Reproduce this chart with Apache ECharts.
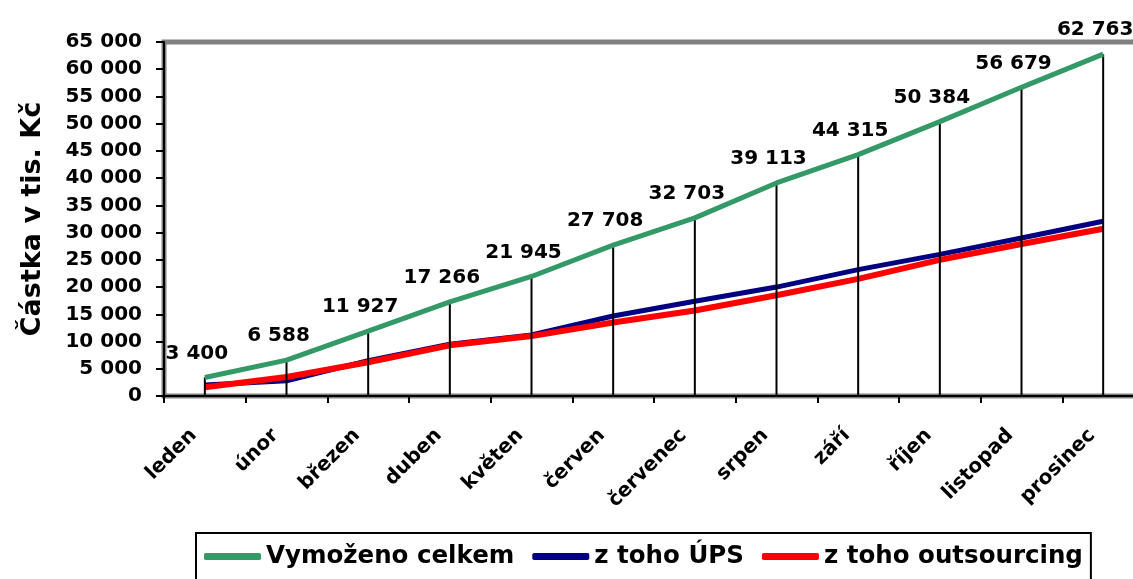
<!DOCTYPE html>
<html>
<head>
<meta charset="utf-8">
<script src="https://cdn.jsdelivr.net/npm/echarts@6/dist/echarts.min.js"></script>
<style>
  html, body { margin: 0; padding: 0; background: #fff; }
  #chart { width: 1133px; height: 579px; }
</style>
</head>
<body>
<div id="chart"></div>
<script>
(function() {
  'use strict';

  var months = ['leden', 'únor', 'březen', 'duben', 'květen', 'červen', 'červenec', 'srpen', 'září', 'říjen', 'listopad', 'prosinec'];
  var vymozenoCelkem = [3400, 6588, 11927, 17266, 21945, 27708, 32703, 39113, 44315, 50384, 56679, 62763];
  var zTohoUps = [2000, 2800, 6500, 9500, 11200, 14700, 17400, 20000, 23200, 26000, 29000, 32100];
  var zTohoOutsourcing = [1600, 3500, 6200, 9300, 11000, 13500, 15700, 18500, 21500, 25000, 27900, 30700];

  var colorGreen = '#339966';
  var colorNavy = '#000080';
  var colorRed = '#ff0000';
  var fontFamily = 'DejaVu Sans';

  function fmt(v) {
    return String(v).replace(/\B(?=(\d{3})+(?!\d))/g, ' ');
  }

  var chart = echarts.init(document.getElementById('chart'));
  chart.setOption({
    animation: false,
    textStyle: { fontFamily: fontFamily },
    // plot area runs a little past the right edge of the window, like the original
    grid: {
      left: 164, top: 42, width: 980, bottom: 183,
      outerBoundsMode: 'none',
      show: true, borderColor: '#808080', borderWidth: 5
    },
    legend: {
      data: ['Vymoženo celkem', 'z toho ÚPS', 'z toho outsourcing'],
      left: 196, top: 533,
      padding: [11, 8, 20, 8],
      borderColor: '#000', borderWidth: 2,
      icon: 'roundRect',
      itemWidth: 57, itemHeight: 7, itemGap: 18,
      textStyle: { fontFamily: fontFamily, fontSize: 24.5, fontWeight: 'bold', color: '#000' }
    },
    xAxis: {
      type: 'category',
      data: months,
      boundaryGap: true,
      axisLine: { lineStyle: { color: '#000', width: 2 } },
      axisTick: { show: true, interval: 0, length: 7, lineStyle: { color: '#000', width: 2 } },
      axisLabel: {
        interval: 0, rotate: 45, margin: 25,
        padding: [0, 16, 0, 0],
        fontFamily: fontFamily, fontSize: 20, fontWeight: 'bold', color: '#000'
      },
      splitLine: { show: false }
    },
    yAxis: {
      type: 'value',
      min: 0, max: 65000, interval: 5000,
      name: 'Částka v tis. Kč',
      nameLocation: 'middle',
      nameRotate: 90,
      nameGap: 118,
      nameTextStyle: { fontFamily: fontFamily, fontSize: 27, fontWeight: 'bold', color: '#000' },
      axisLine: { show: true, lineStyle: { color: '#000', width: 2 } },
      axisTick: { show: true, length: 8, lineStyle: { color: '#000', width: 2 } },
      axisLabel: {
        margin: 22,
        fontFamily: fontFamily, fontSize: 20, fontWeight: 'bold', color: '#000',
        formatter: fmt
      },
      splitLine: { show: false }
    },
    series: [
      {
        name: 'z toho ÚPS',
        type: 'line',
        data: zTohoUps,
        symbol: 'none',
        z: 2,
        lineStyle: { width: 5, color: colorNavy },
        itemStyle: { color: colorNavy }
      },
      {
        name: 'z toho outsourcing',
        type: 'line',
        data: zTohoOutsourcing,
        symbol: 'none',
        z: 2,
        lineStyle: { width: 6, color: colorRed },
        itemStyle: { color: colorRed }
      },
      {
        // black drop lines from the total line down to the axis
        name: 'drop',
        type: 'bar',
        data: vymozenoCelkem,
        barWidth: 2,
        z: 3,
        itemStyle: { color: '#000' },
        label: {
          show: true, position: 'top', distance: 14, offset: [-8, 0],
          fontFamily: fontFamily, fontSize: 20, fontWeight: 'bold', color: '#000',
          formatter: function(p) { return fmt(p.value); }
        }
      },
      {
        name: 'Vymoženo celkem',
        type: 'line',
        data: vymozenoCelkem,
        symbol: 'none',
        z: 4,
        lineStyle: { width: 5, color: colorGreen },
        itemStyle: { color: colorGreen }
      }
    ]
  });
})();
</script>
</body>
</html>
